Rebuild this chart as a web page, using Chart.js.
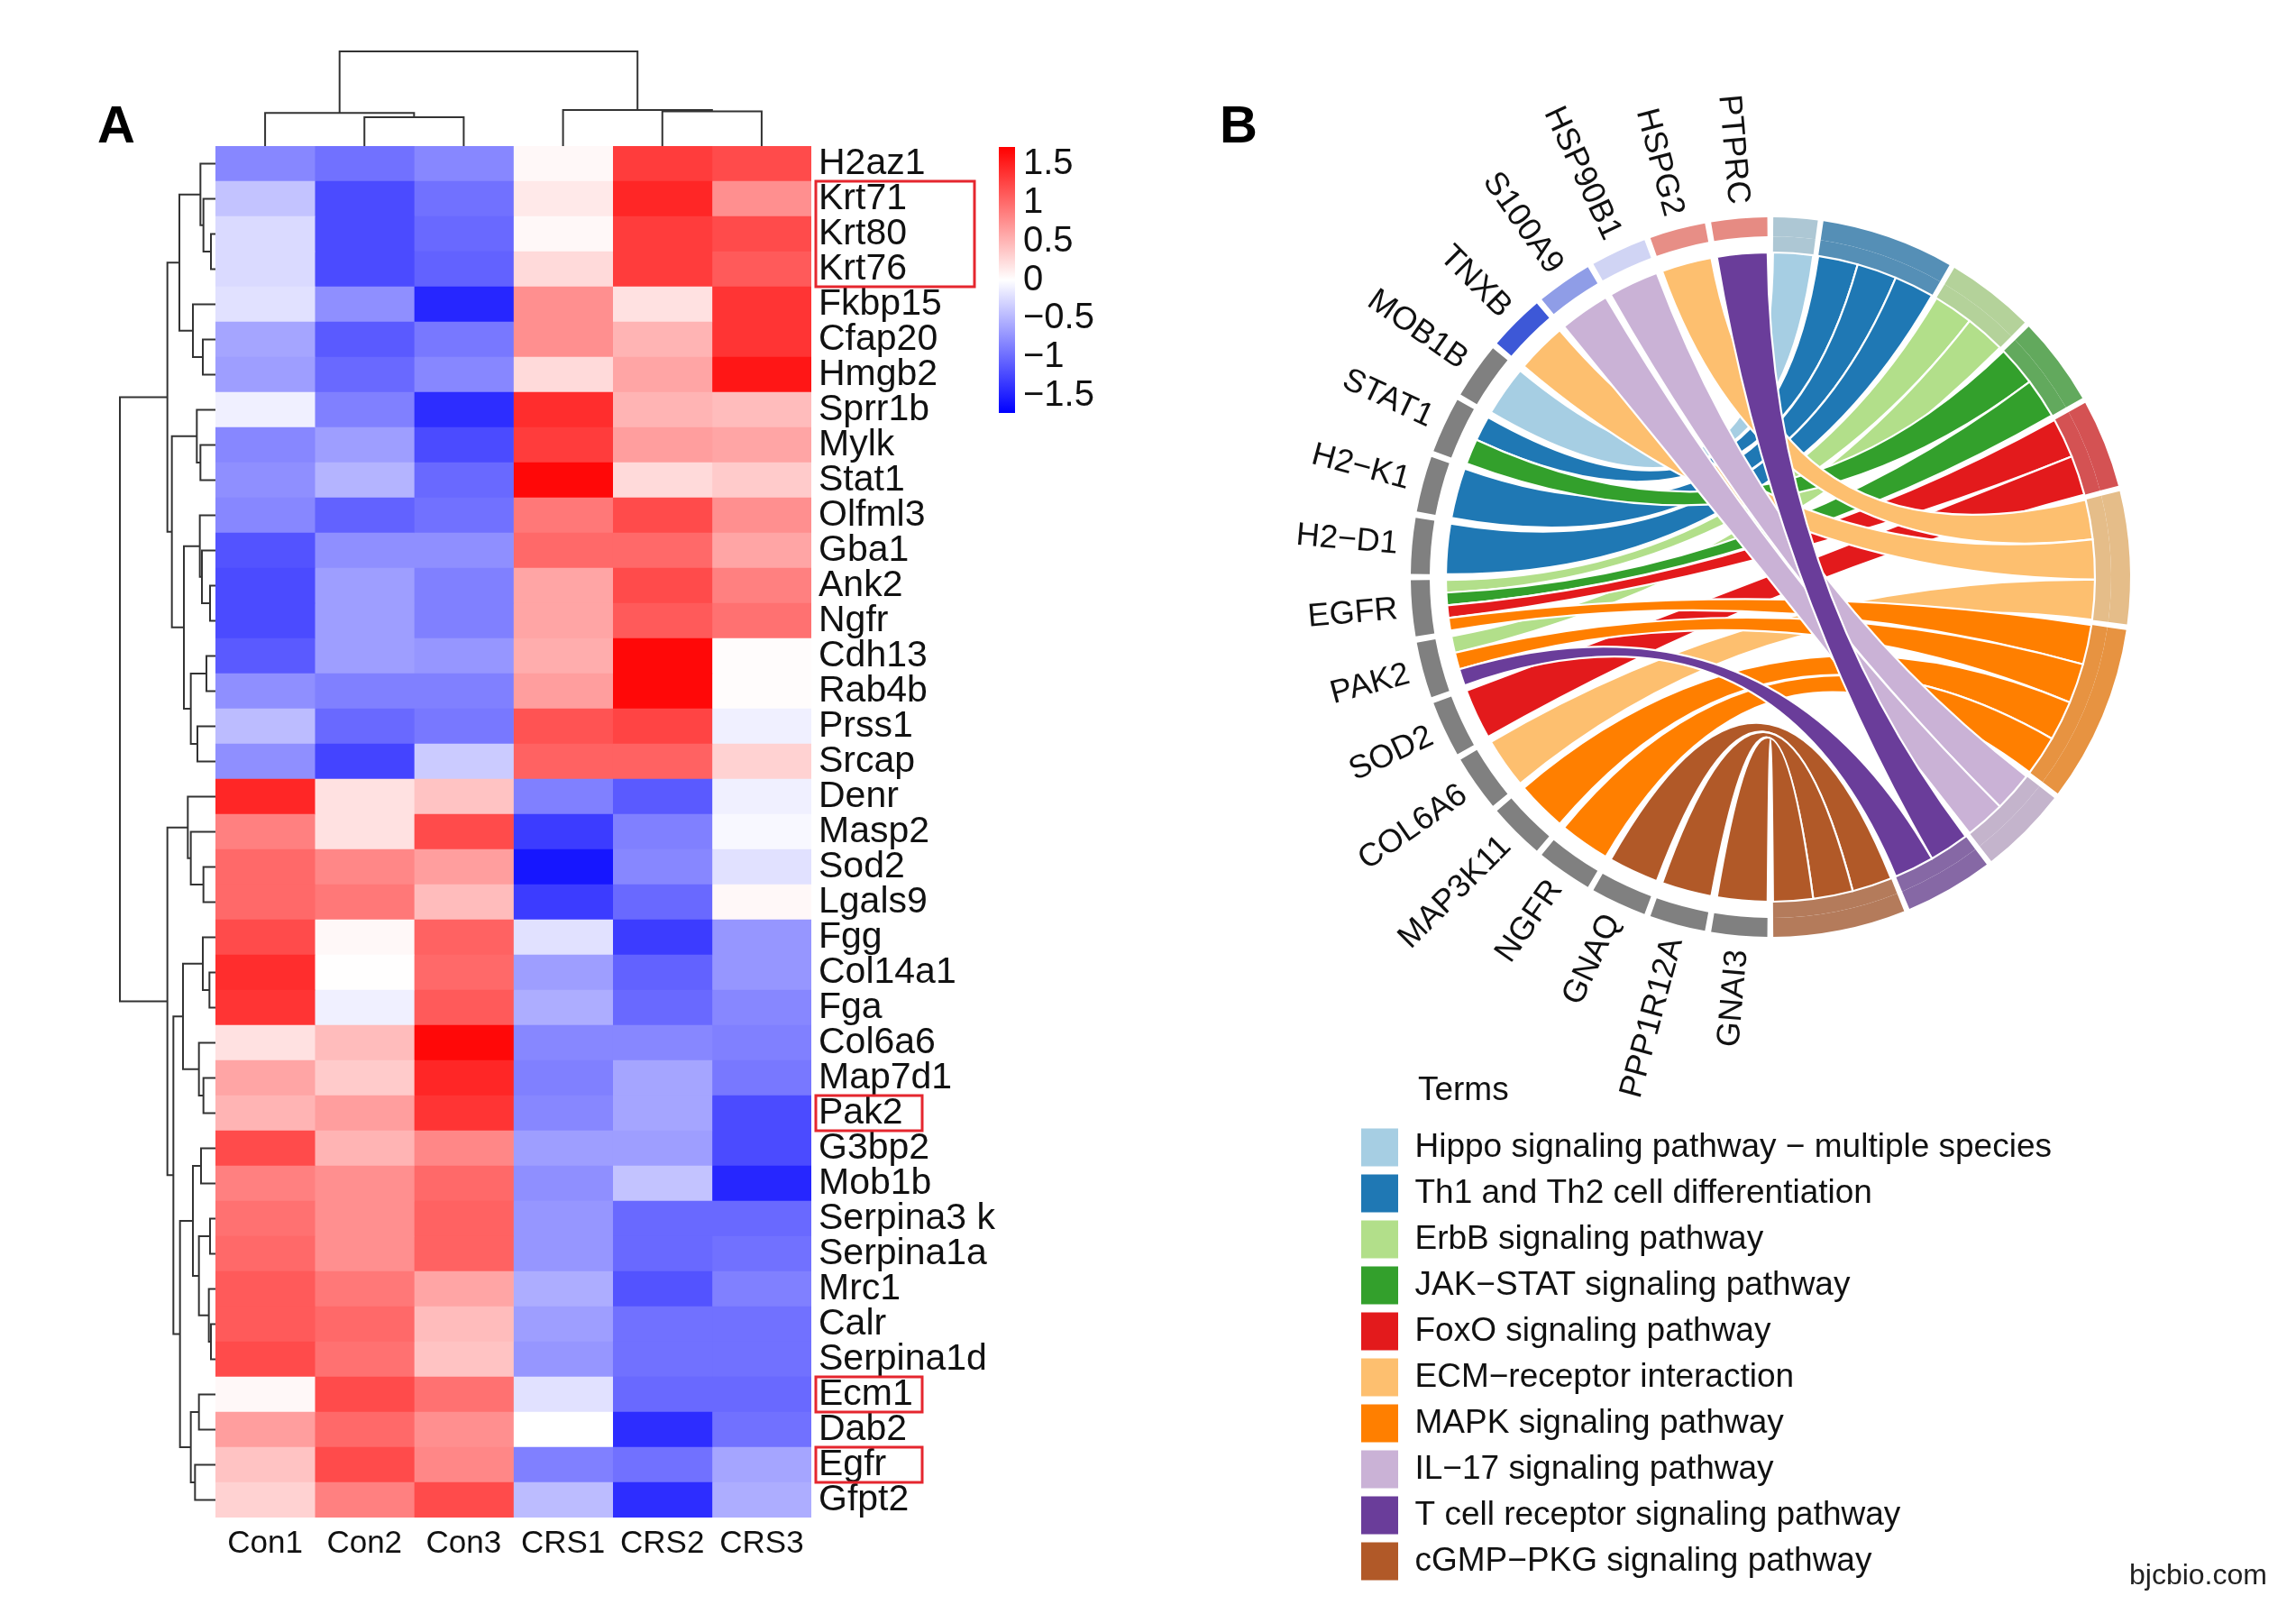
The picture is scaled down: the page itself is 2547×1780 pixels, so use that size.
<!DOCTYPE html>
<html>
<head>
<meta charset="utf-8">
<script src="https://cdn.jsdelivr.net/npm/chart.js@4.4.1/dist/chart.umd.min.js"></script>
<style>
  html, body { margin: 0; padding: 0; background: #fff; }
  #page { position: relative; width: 2547px; height: 1780px; overflow: hidden; }
  canvas { position: absolute; }
  #wm { position: absolute; left: 2362px; top: 1728px; font: 32px 'Liberation Sans', Arial, sans-serif; color: #222; }
</style>
</head>
<body>
<div id="page">
  <canvas id="heat" width="1250" height="1780" style="left:0;top:0"></canvas>
  <canvas id="scale" width="220" height="380" style="left:1060px;top:120px"></canvas>
  <canvas id="chord" width="1287" height="1250" style="left:1260px;top:0"></canvas>
  <canvas id="terms" width="1040" height="620" style="left:1490px;top:1160px"></canvas>
  <div id="wm">bjcbio.com</div>
</div>
<script>
// ---- panel A: heatmap data ----
const genes = ['H2az1', 'Krt71', 'Krt80', 'Krt76', 'Fkbp15', 'Cfap20', 'Hmgb2', 'Sprr1b', 'Mylk', 'Stat1',
  'Olfml3', 'Gba1', 'Ank2', 'Ngfr', 'Cdh13', 'Rab4b', 'Prss1', 'Srcap', 'Denr', 'Masp2',
  'Sod2', 'Lgals9', 'Fgg', 'Col14a1', 'Fga', 'Col6a6', 'Map7d1', 'Pak2', 'G3bp2', 'Mob1b',
  'Serpina3 k', 'Serpina1a', 'Mrc1', 'Calr', 'Serpina1d', 'Ecm1', 'Dab2', 'Egfr', 'Gfpt2'];
const samples = ['Con1', 'Con2', 'Con3', 'CRS1', 'CRS2', 'CRS3'];

// row z-scores, one array per sample column
const zCon1 = [-0.8, -0.4, -0.25, -0.25, -0.2, -0.6, -0.65, -0.1, -0.8, -0.75, -0.8, -1.15, -1.2, -1.2, -1.1, -0.75, -0.45, -0.75,
  1.45, 0.85, 1.0, 1.0, 1.2, 1.4, 1.35, 0.2, 0.6, 0.5, 1.2, 0.85, 0.95, 1.0, 1.1, 1.1, 1.2, 0.05, 0.65, 0.4, 0.3];
const zCon2 = [-0.95, -1.2, -1.2, -1.2, -0.75, -1.1, -1.0, -0.85, -0.65, -0.5, -1.05, -0.75, -0.65, -0.65, -0.65, -0.85, -1.0, -1.25,
  0.2, 0.2, 0.8, 0.9, 0.05, 0.01, -0.1, 0.45, 0.35, 0.65, 0.5, 0.75, 0.75, 0.75, 0.9, 1.0, 0.95, 1.2, 1.0, 1.2, 0.85];
const zCon3 = [-0.8, -0.95, -1.0, -1.05, -1.45, -0.9, -0.8, -1.4, -1.2, -1.0, -0.95, -0.75, -0.85, -0.85, -0.7, -0.85, -0.9, -0.35,
  0.4, 1.2, 0.65, 0.45, 1.05, 1.0, 1.1, 1.65, 1.45, 1.35, 0.8, 1.0, 1.05, 1.05, 0.6, 0.45, 0.4, 0.95, 0.75, 0.8, 1.2];
const zCRS1 = [0.05, 0.15, 0.05, 0.25, 0.75, 0.75, 0.25, 1.4, 1.3, 1.65, 0.9, 1.0, 0.6, 0.6, 0.55, 0.65, 1.15, 1.05,
  -0.85, -1.3, -1.55, -1.3, -0.2, -0.65, -0.55, -0.8, -0.85, -0.8, -0.65, -0.75, -0.7, -0.7, -0.55, -0.65, -0.7, -0.2, 0.0, -0.85, -0.45];
const zCRS2 = [1.3, 1.45, 1.3, 1.3, 0.2, 0.5, 0.6, 0.5, 0.65, 0.25, 1.2, 1.0, 1.2, 1.1, 1.65, 1.65, 1.25, 1.05,
  -1.1, -0.85, -0.8, -1.0, -1.3, -1.05, -1.0, -0.8, -0.6, -0.6, -0.65, -0.4, -1.0, -1.0, -1.15, -0.95, -0.95, -1.0, -1.4, -0.95, -1.4];
const zCRS3 = [1.2, 0.75, 1.2, 1.1, 1.35, 1.35, 1.55, 0.45, 0.6, 0.35, 0.75, 0.6, 0.85, 0.95, 0.02, 0.02, -0.1, 0.3,
  -0.1, -0.05, -0.2, 0.05, -0.7, -0.7, -0.8, -0.85, -0.9, -1.2, -1.2, -1.45, -1.0, -0.95, -0.85, -0.95, -0.95, -1.0, -0.95, -0.6, -0.55];

// genes framed in red
const boxedGenes = [['Krt71', 'Krt76'], ['Pak2'], ['Ecm1'], ['Egfr']];

// clustering trees: [height, left, right], leaves are indexes
const colTree = [194, [68, 0, [59, 1, 2]], [74, 3, [71, 4, 5]]];
const rowTree = [318,
  [160,
    [120, [50, 0, [40, 1, [15, 2, 3]]], [75, 4, [42, 5, 6]]],
    [145, [62, 7, [50, 8, 9]], [105, [52, 10, [45, 11, [18, 12, 13]]], [82, [30, 14, 15], [60, 16, 17]]]]],
  [160,
    [92, 18, [82, 19, [40, 20, 21]]],
    [140,
      [108, [42, 22, [20, 23, 24]], [55, 25, [40, 26, 27]]],
      [118, [75, [48, 28, 29], [55, [18, 30, 31], [22, 32, [15, 33, 34]]]], [82, [55, 35, 36], [68, 37, 38]]]]]];

const legendRange = [-1.72, 1.72];
const legendTicks = [-1.5, -1, -0.5, 0, 0.5, 1, 1.5];

// ---- panel B: chord data ----
const chordGenes = ['PTPRC', 'HSPG2', 'HSP90B1', 'S100A9', 'TNXB', 'MOB1B', 'STAT1', 'H2−K1', 'H2−D1', 'EGFR',
  'PAK2', 'SOD2', 'COL6A6', 'MAP3K11', 'NGFR', 'GNAQ', 'PPP1R12A', 'GNAI3'];
const geneLogFC = [1.4, 1.35, -0.25, -0.83, -1.56, null, null, null, null, null,
  null, null, null, null, null, null, null, null];
const terms = ['Hippo signaling pathway − multiple species', 'Th1 and Th2 cell differentiation', 'ErbB signaling pathway',
  'JAK−STAT signaling pathway', 'FoxO signaling pathway', 'ECM−receptor interaction', 'MAPK signaling pathway',
  'IL−17 signaling pathway', 'T cell receptor signaling pathway', 'cGMP−PKG signaling pathway'];
// term indexes each gene belongs to
const geneTerms = [[8], [5], [7], [7], [5], [0], [1, 3], [1], [1], [2, 3, 4, 6],
  [2, 6, 8], [4], [5], [6], [6], [9], [9], [9]];

const termColors = ['#A6CEE3', '#1F78B4', '#B2DF8A', '#33A02C', '#E31A1C', '#FDBF6F', '#FF7F00', '#CAB2D6', '#6A3D9A', '#B15928'];
const FONT = "'Liberation Sans', Arial, sans-serif";

Chart.defaults.font.family = FONT;
Chart.defaults.color = '#111';

function hexRgb(h) { const n = parseInt(h.slice(1), 16); return [n >> 16, (n >> 8) & 255, n & 255]; }
function mix(a, b, t) { return a.map((v, i) => Math.round(v + (b[i] - v) * t)); }
function rgb(c) { return 'rgb(' + c[0] + ',' + c[1] + ',' + c[2] + ')'; }
function heatColor(v) {
  const t = Math.min(Math.abs(v) / 1.7, 1);
  return rgb(v < 0 ? mix([255, 255, 255], [0, 0, 255], t) : mix([255, 255, 255], [255, 0, 0], t));
}
function mutedColor(h) { return rgb(mix(hexRgb(h), [185, 185, 185], 0.35)); }
function geneColor(v) {
  if (v === null) return '#808080';
  const t = Math.min(Math.abs(v) / 1.7, 1);
  return rgb(v < 0 ? mix([236, 236, 250], [45, 75, 212], t) : mix([250, 236, 236], [226, 118, 108], t));
}

// draws a dendrogram, returns position and height of the node
function drawTree(ctx, node, leafAt, hAt, dir) {
  if (typeof node === 'number') return { p: leafAt(node), h: 0 };
  const a = drawTree(ctx, node[1], leafAt, hAt, dir);
  const b = drawTree(ctx, node[2], leafAt, hAt, dir);
  const top = hAt(node[0]);
  ctx.beginPath();
  if (dir === 'row') {
    ctx.moveTo(hAt(a.h), a.p); ctx.lineTo(top, a.p); ctx.lineTo(top, b.p); ctx.lineTo(hAt(b.h), b.p);
  } else {
    ctx.moveTo(a.p, hAt(a.h)); ctx.lineTo(a.p, top); ctx.lineTo(b.p, top); ctx.lineTo(b.p, hAt(b.h));
  }
  ctx.stroke();
  return { p: (a.p + b.p) / 2, h: node[0] };
}

const heatDecor = {
  id: 'heatDecor',
  afterDatasetsDraw(chart) {
    const { ctx, chartArea: ca } = chart;
    const x = chart.scales.x, y = chart.scales.y;
    ctx.save();
    ctx.strokeStyle = '#333';
    ctx.lineWidth = 2;
    const rowK = 106 / rowTree[0];
    drawTree(ctx, rowTree, i => y.getPixelForValue(i), h => ca.left - h * rowK, 'row');
    const colK = 105 / colTree[0];
    drawTree(ctx, colTree, i => x.getPixelForValue(i + 0.5), h => ca.top - h * colK, 'col');

    // red frames round some gene names
    const rowH = Math.abs(y.getPixelForValue(1) - y.getPixelForValue(0));
    ctx.strokeStyle = '#E5262E';
    ctx.lineWidth = 3;
    boxedGenes.forEach(b => {
      const i0 = genes.indexOf(b[0]), i1 = genes.indexOf(b[b.length - 1]);
      const top = y.getPixelForValue(i0) - rowH / 2;
      const bot = y.getPixelForValue(i1) + rowH / 2;
      ctx.strokeRect(ca.right + 5, top, b.length > 1 ? 176 : 118, bot - top);
    });

    ctx.fillStyle = '#000';
    ctx.font = 'bold 58px ' + FONT;
    ctx.textBaseline = 'alphabetic';
    ctx.fillText('A', 108, 158);
    ctx.restore();
  }
};

const zCols = [zCon1, zCon2, zCon3, zCRS1, zCRS2, zCRS3];

new Chart(document.getElementById('heat'), {
  type: 'bar',
  data: {
    labels: genes,
    datasets: samples.map((s, j) => ({
      label: s,
      data: genes.map(() => 1),
      backgroundColor: zCols[j].map(heatColor),
      borderWidth: 0,
      barPercentage: 1,
      categoryPercentage: 1
    }))
  },
  options: {
    indexAxis: 'y',
    responsive: false,
    animation: false,
    events: [],
    layout: { padding: { left: 239, top: 162, right: 50, bottom: 37 } },
    plugins: { legend: { display: false }, tooltip: { enabled: false } },
    scales: {
      x: {
        type: 'linear', stacked: true, min: 0, max: 6,
        grid: { display: false, drawTicks: false }, border: { display: false },
        afterBuildTicks: s => { s.ticks = samples.map((_, i) => ({ value: i + 0.5 })); },
        afterFit: s => { s.height = 60; },
        ticks: { font: { size: 35 }, color: '#111', padding: 8, maxRotation: 0, autoSkip: false,
          callback: v => samples[Math.floor(v)] }
      },
      y: {
        stacked: true, position: 'right',
        grid: { display: false, drawTicks: false }, border: { display: false },
        afterFit: s => { s.width = 300; },
        ticks: { font: { size: 41 }, color: '#111', padding: 8, autoSkip: false }
      }
    }
  },
  plugins: [heatDecor]
});

// colour key
new Chart(document.getElementById('scale'), {
  type: 'bar',
  data: {
    labels: [''],
    datasets: [{
      data: [legendRange],
      backgroundColor: c => {
        const ch = c.chart;
        if (!ch.chartArea) return '#fff';
        const ys = ch.scales.y;
        const g = ch.ctx.createLinearGradient(0, ys.getPixelForValue(legendRange[0]), 0, ys.getPixelForValue(legendRange[1]));
        g.addColorStop(0, heatColor(legendRange[0]));
        g.addColorStop(0.5, '#ffffff');
        g.addColorStop(1, heatColor(legendRange[1]));
        return g;
      },
      borderWidth: 0,
      barPercentage: 1,
      categoryPercentage: 1
    }]
  },
  options: {
    responsive: false,
    animation: false,
    events: [],
    layout: { padding: { left: 48, top: 43, bottom: 42, right: 34 } },
    plugins: { legend: { display: false }, tooltip: { enabled: false } },
    scales: {
      x: { display: false },
      y: {
        position: 'right', min: legendRange[0], max: legendRange[1],
        grid: { display: false, drawTicks: false }, border: { display: false },
        afterFit: s => { s.width = 120; },
        afterBuildTicks: s => { s.ticks = legendTicks.map(v => ({ value: v })); },
        ticks: { font: { size: 40 }, color: '#111', padding: 9, autoSkip: false,
          callback: v => (v < 0 ? '\u2212' : '') + Math.abs(v) }
      }
    }
  }
});

// ---- chord ring: slices built from gene / term membership ----
const termCounts = terms.map((_, t) => geneTerms.filter(a => a.includes(t)).length);
const nLinks = termCounts.reduce((a, b) => a + b, 0);
const gapT = 0.9, gapG = 1;
const geneSlot = 180 / chordGenes.length;
const unitT = (180 - gapT * terms.length) / nLinks;
const slices = [];
terms.forEach((_, i) => {
  slices.push({ v: gapT / 2, k: 'gap' }, { v: termCounts[i] * unitT, k: 'term', i: i }, { v: gapT / 2, k: 'gap' });
});
for (let g = chordGenes.length - 1; g >= 0; g--) {
  slices.push({ v: gapG / 2, k: 'gap' }, { v: geneSlot - gapG, k: 'gene', i: g }, { v: gapG / 2, k: 'gap' });
}
const clear = 'rgba(0,0,0,0)';

const chordDecor = {
  id: 'chordDecor',
  afterDatasetsDraw(chart) {
    const ctx = chart.ctx;
    const outer = chart.getDatasetMeta(0).data;
    const inner = chart.getDatasetMeta(1).data;
    const cx = outer[0].x, cy = outer[0].y;
    const R = inner[0].innerRadius;
    const geneArc = {}, termArc = {};
    slices.forEach((s, k) => {
      if (s.k === 'gene') geneArc[s.i] = outer[k];
      if (s.k === 'term') termArc[s.i] = outer[k];
    });

    const links = [];
    geneTerms.forEach((ts, g) => ts.forEach(t => links.push({ g: g, t: t })));
    links.forEach(l => {
      const ga = geneArc[l.g];
      const own = geneTerms[l.g].slice().sort((a, b) => a - b);
      const w = (ga.endAngle - ga.startAngle) / own.length;
      l.g1 = ga.endAngle - own.indexOf(l.t) * w;
      l.g0 = l.g1 - w;
      const ta = termArc[l.t];
      const members = [];
      geneTerms.forEach((ts, g) => { if (ts.includes(l.t)) members.push(g); });
      const w2 = (ta.endAngle - ta.startAngle) / members.length;
      l.t0 = ta.startAngle + members.indexOf(l.g) * w2;
      l.t1 = l.t0 + w2;
    });
    links.sort((a, b) => a.t - b.t || a.g - b.g);

    ctx.save();
    ctx.lineWidth = 2.2;
    ctx.strokeStyle = '#ffffff';
    ctx.lineJoin = 'round';
    links.forEach(l => {
      ctx.beginPath();
      ctx.arc(cx, cy, R, l.g0, l.g1);
      ctx.quadraticCurveTo(cx, cy, cx + R * Math.cos(l.t0), cy + R * Math.sin(l.t0));
      ctx.arc(cx, cy, R, l.t0, l.t1);
      ctx.quadraticCurveTo(cx, cy, cx + R * Math.cos(l.g0), cy + R * Math.sin(l.g0));
      ctx.closePath();
      ctx.fillStyle = termColors[l.t];
      ctx.fill();
      ctx.stroke();
    });

    // gene names, radial
    ctx.fillStyle = '#111';
    ctx.font = '36px ' + FONT;
    ctx.textAlign = 'right';
    ctx.textBaseline = 'middle';
    Object.keys(geneArc).forEach(g => {
      const a = geneArc[g];
      const m = (a.startAngle + a.endAngle) / 2;
      const r = a.outerRadius + 16;
      ctx.save();
      ctx.translate(cx + r * Math.cos(m), cy + r * Math.sin(m));
      ctx.rotate(m + Math.PI);
      ctx.fillText(chordGenes[g], 0, 0);
      ctx.restore();
    });

    ctx.textAlign = 'left';
    ctx.textBaseline = 'alphabetic';
    ctx.font = 'bold 58px ' + FONT;
    ctx.fillStyle = '#000';
    ctx.fillText('B', 93, 158);
    ctx.restore();
  }
};

new Chart(document.getElementById('chord'), {
  type: 'doughnut',
  data: {
    labels: slices.map((s, k) => s.k === 'gene' ? chordGenes[s.i] : s.k === 'term' ? terms[s.i] : ''),
    datasets: [
      {
        data: slices.map(s => s.v),
        backgroundColor: slices.map(s => s.k === 'term' ? mutedColor(termColors[s.i]) : s.k === 'gene' ? geneColor(geneLogFC[s.i]) : clear),
        borderWidth: 0, hoverBorderWidth: 0, hoverOffset: 0, offset: 0, weight: 21
      },
      {
        data: slices.map(s => s.v),
        backgroundColor: slices.map(s => s.k === 'term' ? mutedColor(termColors[s.i]) : clear),
        borderWidth: 0, hoverBorderWidth: 0, hoverOffset: 0, offset: 0, weight: 18
      }
    ]
  },
  options: {
    responsive: false,
    animation: false,
    events: [],
    radius: 399,
    cutout: 360,
    spacing: 0,
    layout: { padding: { left: 305, top: 241, right: 184, bottom: 211 } },
    plugins: { legend: { display: false }, tooltip: { enabled: false } }
  },
  plugins: [chordDecor]
});

// term legend
new Chart(document.getElementById('terms'), {
  type: 'doughnut',
  data: {
    labels: terms,
    datasets: [{ data: terms.map(() => 0), backgroundColor: termColors, borderWidth: 0 }]
  },
  options: {
    responsive: false,
    animation: false,
    events: [],
    layout: { padding: { left: 11, top: 20 } },
    plugins: {
      tooltip: { enabled: false },
      legend: {
        position: 'left',
        align: 'start',
        maxWidth: 1000,
        title: { display: true, text: '       Terms', position: 'start', color: '#111',
          font: { size: 37 }, padding: { top: 11, bottom: 7 } },
        labels: { boxWidth: 41, boxHeight: 42, padding: 9, font: { size: 37 }, color: '#111' }
      }
    }
  }
});
</script>
</body>
</html>
